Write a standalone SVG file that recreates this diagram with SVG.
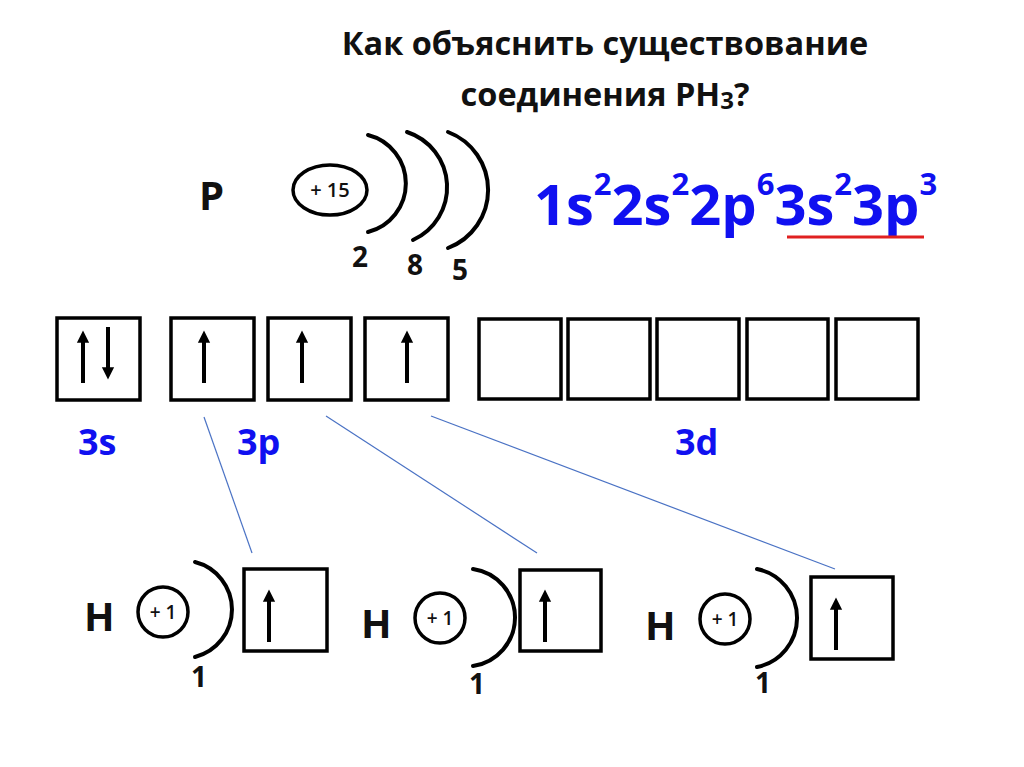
<svg xmlns="http://www.w3.org/2000/svg" width="1024" height="767" viewBox="0 0 1024 767">
<style>
text{font-family:"Open Sans","Liberation Sans",sans-serif;font-weight:bold;}
.title{font-size:32.5px;fill:#111;text-anchor:middle;}
.blk{fill:#111;}
.blue{fill:#1010f0;}
.box{fill:#fff;stroke:#000;stroke-width:3.5;}
.shell{fill:none;stroke:#000;stroke-width:4;stroke-linecap:round;}
.nuc{fill:#fff;stroke:#000;stroke-width:3.5;}
.spin{stroke:#000;stroke-width:4;marker-end:url(#ah);}
.link{stroke:#4a72c4;stroke-width:1.2;fill:none;}
.small{font-size:19px;font-weight:600;fill:#111;text-anchor:middle;}
</style>
<defs>
<marker id="ah" markerUnits="userSpaceOnUse" markerWidth="14" markerHeight="16" refX="2" refY="7" orient="auto" viewBox="0 0 16 14">
<path d="M0,0 L14,7 L0,14 Z" fill="#000"/>
</marker>
</defs>
<rect width="1024" height="767" fill="#fff"/>

<g id="title">
<text class="title" x="605" y="55">Как объяснить существование</text>
<text class="title" x="605" y="106">соединения PH<tspan font-size="24" dy="3">3</tspan><tspan dy="-3">?</tspan></text>
</g>

<g id="P-atom">
<text class="blk" x="199" y="210" font-size="40">P</text>
<ellipse class="nuc" cx="330" cy="190" rx="37" ry="25"/>
<text class="small" x="330" y="197" style="font-size:20px">+ 15</text>
<path class="shell" d="M368,135 A50,50 0 0 1 368,232"/>
<path class="shell" d="M407,132 A58,58 0 0 1 413,240"/>
<path class="shell" d="M448,132 A62,62 0 0 1 448,248"/>
<text class="blk" x="352" y="267" font-size="28">2</text>
<text class="blk" x="407" y="275" font-size="28">8</text>
<text class="blk" x="452" y="280" font-size="28">5</text>
</g>

<g id="config">
<text class="blue" x="534" y="225" font-size="56">1s<tspan font-size="31" dy="-30">2</tspan><tspan dy="30">2s</tspan><tspan font-size="31" dy="-30">2</tspan><tspan dy="30">2p</tspan><tspan font-size="31" dy="-30">6</tspan><tspan dy="30">3s</tspan><tspan font-size="31" dy="-30">2</tspan><tspan dy="30">3p</tspan><tspan font-size="31" dy="-30">3</tspan></text>
<line x1="787" y1="237" x2="924" y2="237" stroke="#e02020" stroke-width="3"/>
</g>

<g id="orbital-3s">
<rect class="box" x="57" y="318" width="83" height="82"/>
<line class="spin" x1="83" y1="383" x2="83" y2="341"/>
<line class="spin" x1="108" y1="327" x2="108" y2="369"/>
<text class="blue" x="78" y="455" font-size="36">3s</text>
</g>

<g id="orbital-3p">
<rect class="box" x="171" y="318" width="83" height="82"/>
<line class="spin" x1="204" y1="383" x2="204" y2="341"/>
<rect class="box" x="268" y="318" width="83" height="82"/>
<line class="spin" x1="302" y1="383" x2="302" y2="341"/>
<rect class="box" x="365" y="318" width="83" height="82"/>
<line class="spin" x1="407" y1="383" x2="407" y2="341"/>
<text class="blue" x="237" y="455" font-size="36">3p</text>
</g>

<g id="orbital-3d">
<rect class="box" x="479" y="319" width="82" height="80"/>
<rect class="box" x="568" y="319" width="82" height="80"/>
<rect class="box" x="657" y="319" width="82" height="80"/>
<rect class="box" x="747" y="319" width="81" height="80"/>
<rect class="box" x="836" y="319" width="82" height="80"/>
<text class="blue" x="675" y="455" font-size="36">3d</text>
</g>

<g id="connectors">
<line class="link" x1="204" y1="417" x2="252" y2="553"/>
<line class="link" x1="326" y1="416" x2="537" y2="553"/>
<line class="link" x1="431" y1="416" x2="835" y2="569"/>
</g>

<g id="H1">
<text class="blk" x="84" y="631" font-size="40">H</text>
<circle class="nuc" cx="163" cy="612" r="25"/>
<text class="small" x="163" y="619">+ 1</text>
<path class="shell" d="M195,562 A49,49 0 0 1 195,657"/>
<rect class="box" x="244" y="569" width="83" height="82"/>
<line class="spin" x1="269" y1="642" x2="269" y2="600"/>
<text class="blk" x="191" y="687" font-size="28">1</text>
</g>

<g id="H2">
<text class="blk" x="361" y="638" font-size="40">H</text>
<circle class="nuc" cx="440" cy="618" r="25"/>
<text class="small" x="440" y="625">+ 1</text>
<path class="shell" d="M473,569 A49,49 0 0 1 473,666"/>
<rect class="box" x="520" y="570" width="81" height="81"/>
<line class="spin" x1="545" y1="642" x2="545" y2="600"/>
<text class="blk" x="469" y="694" font-size="28">1</text>
</g>

<g id="H3">
<text class="blk" x="645" y="640" font-size="40">H</text>
<circle class="nuc" cx="725" cy="619" r="25"/>
<text class="small" x="725" y="626">+ 1</text>
<path class="shell" d="M757,569 A50,50 0 0 1 757,667"/>
<rect class="box" x="811" y="577" width="82" height="82"/>
<line class="spin" x1="836" y1="650" x2="836" y2="608"/>
<text class="blk" x="755" y="693" font-size="28">1</text>
</g>
</svg>
